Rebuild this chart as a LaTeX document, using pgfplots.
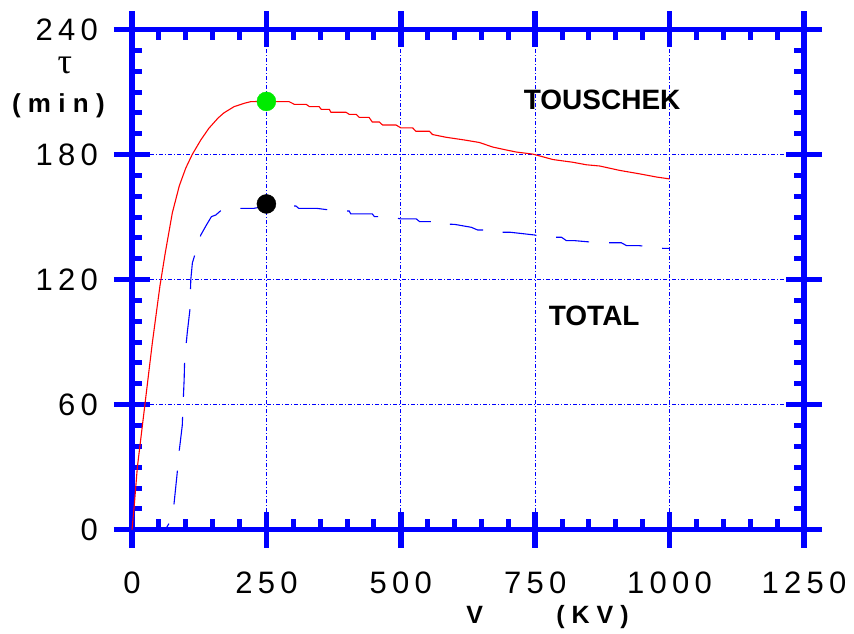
\documentclass[border=0pt]{standalone}
\usepackage{fontspec}
\setmainfont{Liberation Sans}
\newfontfamily\tickfont[LetterSpace=17]{Liberation Sans}
\newfontfamily\lblfont[LetterSpace=28]{Liberation Sans}
\newfontfamily\greekfont{Liberation Serif}
\usepackage{pgfplots}
\pgfplotsset{compat=1.18}
\definecolor{fb}{RGB}{0,0,255}
\definecolor{dotgreen}{RGB}{0,235,0}
\begin{document}
\begin{tikzpicture}
\pgfplotsset{
  common/.style={
    scale only axis, width=672bp, height=500.2bp,
    xmin=0, xmax=1250, ymin=0, ymax=240,
    xtick={0,250,...,1250}, ytick={0,60,...,240},
    scaled ticks=false,
    /pgf/number format/set thousands separator={},
    /pgf/number format/assume math mode=true,
  }
}
% outside halves of the major ticks
\begin{axis}[common, tick align=outside, major tick length=18bp,
  xticklabels={}, yticklabels={}, axis line style={draw=none},
  major tick style={fb, line width=5.5bp}, minor tick num=0]
\end{axis}
\begin{axis}[common, tick align=inside, major tick length=18bp, minor tick length=10.5bp,
  minor x tick num=4, minor y tick num=5,
  axis line style={fb, line width=5.5bp},
  major tick style={fb, line width=5.5bp},
  minor tick style={fb, line width=5bp},
  grid=major,
  major grid style={fb, line width=0.9bp, dash pattern=on 4bp off 2bp on 1bp off 2bp},
  clip=false,
  tick label style={font=\tickfont\fontsize{31bp}{31bp}\selectfont, inner sep=0pt},
  xticklabel style={anchor=north, yshift=-42bp},
  yticklabel style={anchor=east, xshift=-34bp},
]
\addplot[red, line width=1.1bp] coordinates {
(0,0) (4,11) (10,30) (24,60) (38,90) (52,117) (62,133) (75,152) (88,165) (100,173.5)
(112,180) (128,187) (143,192.6) (160,197.5) (171,200) (190,203) (209,204.6) (221,205.4)
(250,205.5) (271,205.4) (292,205.4) (302,204.1) (324,204.1) (330,203) (348,203)
(352,201.7) (367,201.7) (370,200.3) (398,200.3) (404,199.3) (417,199.3) (423,197.8)
(441,197.8) (447,195.6) (460,195.6) (466,194.2) (491,194.2) (500,192.8) (522,192.8)
(528,191.2) (553,191.2) (559,189.6) (584,188.3) (618,187) (646,185.8) (671,183.6)
(696,182.2) (715,181.2) (746,180.2) (783,177.6) (820,176.3) (845,175.1) (870,174.5)
(907,172.4) (945,170.7) (976,169.2) (1000,168.3)
};
\addplot[fb, line width=1.1bp, dash pattern=on 34bp off 20bp, dash phase=27bp] coordinates {
(62,0) (70,3.5) (78,12) (84,27) (87,36) (93.5,50) (95,60) (97,72) (98,82) (103,95)
(107.5,105) (109.4,120) (112.3,128) (128,141.4) (138,146) (147.7,150.2) (155.9,151)
(165.2,153.1) (171.4,153.1) (182.6,154.2) (227,154.2) (250,155.3) (270,155.3) (305,155.3)
(310,154.2) (343,154.2) (380,153) (404,152.9) (407,151.5) (447,151.5) (451,150.2)
(480,150.2) (500,149.1) (529,149.1) (535,147.8) (572,147.8) (576,146.7) (600,146.5)
(631,145.1) (643,143.8) (674,143.8) (684,142.7) (704,142.7) (749,141.4) (764,140.3)
(799,140.3) (808,138.7) (823,138.7) (867,137.7) (910,137.7) (920,136.3) (943,136.3)
(987,135) (1000,135)
};
\addplot[only marks, mark=*, mark size=9.5bp, mark options={draw=dotgreen, fill=dotgreen}] coordinates {(250,205.5)};
\addplot[only marks, mark=*, mark size=9.5bp, mark options={draw=black, fill=black}] coordinates {(250,156.3)};
\node[anchor=center, inner sep=0pt, font=\greekfont\fontsize{36bp}{36bp}\selectfont] at (axis cs:-124.8,223) {τ};
\node[anchor=base west, inner sep=0pt, font=\lblfont\bfseries\fontsize{26bp}{26bp}\selectfont] at (axis cs:-223.5,200) {(min)};
\node[anchor=base west, inner sep=0pt, font=\lblfont\bfseries\fontsize{25bp}{25bp}\selectfont] at (axis cs:621.6,-44.8) {V};
\node[anchor=base west, inner sep=0pt, font=\lblfont\bfseries\fontsize{25bp}{25bp}\selectfont] at (axis cs:789,-44.8) {(KV)};
\node[anchor=base west, inner sep=0pt, font=\bfseries\fontsize{28bp}{28bp}\selectfont] at (axis cs:728.4,201.4) {TOUSCHEK};
\node[anchor=base west, inner sep=0pt, font=\bfseries\fontsize{28bp}{28bp}\selectfont] at (axis cs:775,97.9) {TOTAL};
\coordinate (SW) at (rel axis cs:0,0);
\coordinate (NE) at (rel axis cs:1,1);
\end{axis}
\pgfresetboundingbox
\path ([shift={(-132bp,-104.3bp)}]SW) rectangle ([shift={(50bp,29.5bp)}]NE);
\end{tikzpicture}
\end{document}
